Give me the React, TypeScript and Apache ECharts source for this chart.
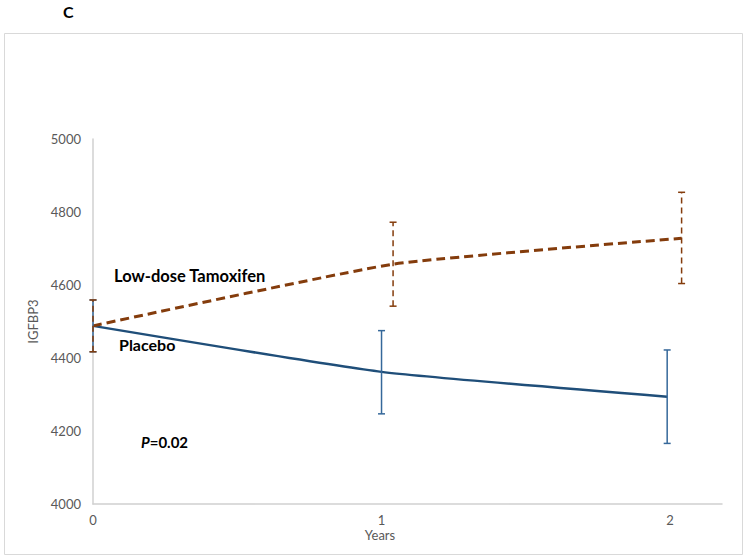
import React, { useEffect, useRef } from "react";
import * as echarts from "echarts";

// Data
const placeboYears = [0, 1, 1.99];
const placeboMean = [4488, 4362, 4294];
const placeboLow = [4417, 4247, 4166];
const placeboHigh = [4559, 4475, 4422];

const tamoxifenYears = [0, 1.04, 2.04];
const tamoxifenMean = [4488, 4657, 4728];
const tamoxifenLow = [4417, 4542, 4604];
const tamoxifenHigh = [4559, 4772, 4854];

const xTickLabels = ["0", "1", "2"];
const yMin = 4000;
const yMax = 5000;
const yStep = 200;
const xMax = 2.18;

const FONT = "Lato, 'Liberation Sans', sans-serif";
const TAM_COLOR = "#843C0C";
const PLA_COLOR = "#1F4E79";
const PLA_ERR_COLOR = "#35689A";

function errorRenderer(color: string, dashed: boolean) {
  return (_params: any, api: any) => {
    const x = api.value(0);
    const lo = api.value(1);
    const hi = api.value(2);
    const pLo = api.coord([x, lo]);
    const pHi = api.coord([x, hi]);
    const cap = 3.5;
    const base: any = { stroke: color, lineWidth: 1.5, fill: null };
    const dashStyle: any = dashed ? { ...base, lineDash: [6, 4] } : base;
    return {
      type: "group",
      children: [
        { type: "line", shape: { x1: pLo[0], y1: pLo[1], x2: pHi[0], y2: pHi[1] }, style: dashStyle },
        { type: "line", shape: { x1: pLo[0] - cap, y1: pLo[1], x2: pLo[0] + cap, y2: pLo[1] }, style: base },
        { type: "line", shape: { x1: pHi[0] - cap, y1: pHi[1], x2: pHi[0] + cap, y2: pHi[1] }, style: base },
      ],
    };
  };
}

export default function App() {
  const ref = useRef<HTMLDivElement>(null);
  useEffect(() => {
    if (!ref.current) return;
    const chart = echarts.init(ref.current, undefined, { renderer: "svg" });
    const placeboLine = placeboYears.map((x, i) => [x, placeboMean[i]]);
    const tamLine = tamoxifenYears.map((x, i) => [x, tamoxifenMean[i]]);
    const placeboErr = placeboYears.map((x, i) => [x, placeboLow[i], placeboHigh[i]]);
    const tamErr = tamoxifenYears.map((x, i) => [x, tamoxifenLow[i], tamoxifenHigh[i]]);

    chart.setOption({
      animation: false,
      backgroundColor: "#ffffff",
      textStyle: { fontFamily: FONT },
      grid: { left: 93, right: 26, top: 139, bottom: 54, containLabel: false },
      xAxis: {
        type: "value",
        min: 0,
        max: xMax,
        interval: 1,
        axisLine: { show: true, lineStyle: { color: "#D0D0D0", width: 1.5 } },
        axisTick: { show: false },
        splitLine: { show: false },
        axisLabel: {
          color: "#595959",
          fontSize: 13,
          fontFamily: FONT,
          margin: 9,
          showMaxLabel: false,
          formatter: (v: number) => {
            const idx = Math.round(v);
            return Math.abs(v - idx) < 1e-6 && xTickLabels[idx] !== undefined ? xTickLabels[idx] : "";
          },
        },
      },
      yAxis: {
        type: "value",
        min: yMin,
        max: yMax,
        interval: yStep,
        name: "IGFBP3",
        nameLocation: "middle",
        nameGap: 48,
        nameTextStyle: { color: "#595959", fontSize: 13, fontFamily: FONT },
        axisLine: { show: true, lineStyle: { color: "#D0D0D0", width: 1.5 } },
        axisTick: { show: false },
        splitLine: { show: false },
        axisLabel: {
          color: "#595959",
          fontSize: 13,
          fontFamily: FONT,
          margin: 12,
          formatter: (v: number) => String(v),
        },
      },
      graphic: [
        {
          type: "rect",
          shape: { x: 4.5, y: 33.5, width: 738, height: 521 },
          style: { fill: "none", stroke: "#D9D9D9", lineWidth: 1 },
          silent: true,
          z: -10,
        },
        {
          type: "text",
          left: 63,
          top: 3,
          style: { text: "C", fontSize: 16, fontWeight: "bold", fill: "#000", fontFamily: FONT },
        },
        {
          type: "text",
          x: 380,
          y: 535,
          style: {
            text: "Years",
            fontSize: 13,
            fill: "#595959",
            fontFamily: FONT,
            align: "center",
            verticalAlign: "middle",
          },
        },
        {
          type: "text",
          x: 114,
          y: 276,
          style: {
            text: "Low-dose Tamoxifen",
            fontSize: 16.5,
            fontWeight: "bold",
            fill: "#000",
            fontFamily: FONT,
            verticalAlign: "middle",
          },
        },
        {
          type: "text",
          x: 119,
          y: 344,
          style: {
            text: "Placebo",
            fontSize: 16,
            fontWeight: "bold",
            fill: "#000",
            fontFamily: FONT,
            verticalAlign: "middle",
          },
        },
        {
          type: "text",
          x: 141,
          y: 442,
          style: {
            text: "{i|P}{b|=0.02}",
            fontFamily: FONT,
            verticalAlign: "middle",
            rich: {
              i: { fontSize: 15, fontWeight: "bold", fontStyle: "italic", fill: "#000", fontFamily: FONT },
              b: { fontSize: 15, fontWeight: "bold", fill: "#000", fontFamily: FONT },
            },
          },
        },
      ],
      series: [
        {
          name: "Placebo",
          type: "line",
          data: placeboLine,
          smooth: 0.15,
          symbol: "none",
          lineStyle: { color: PLA_COLOR, width: 2.5 },
          z: 2,
        },
        {
          name: "Low-dose Tamoxifen",
          type: "line",
          data: tamLine,
          smooth: 0.15,
          symbol: "none",
          lineStyle: { color: TAM_COLOR, width: 3, type: [9, 5] },
          z: 3,
        },
        {
          name: "Placebo error",
          type: "custom",
          data: placeboErr,
          encode: { x: 0, y: [1, 2] },
          renderItem: errorRenderer(PLA_ERR_COLOR, false),
          z: 4,
        },
        {
          name: "Tamoxifen error",
          type: "custom",
          data: tamErr,
          encode: { x: 0, y: [1, 2] },
          renderItem: errorRenderer(TAM_COLOR, true),
          z: 5,
        },
      ],
    });
    return () => chart.dispose();
  }, []);
  return (
    <div
      ref={ref}
      style={{ position: "fixed", left: 0, top: 0, width: 748, height: 558 }}
    />
  );
}
